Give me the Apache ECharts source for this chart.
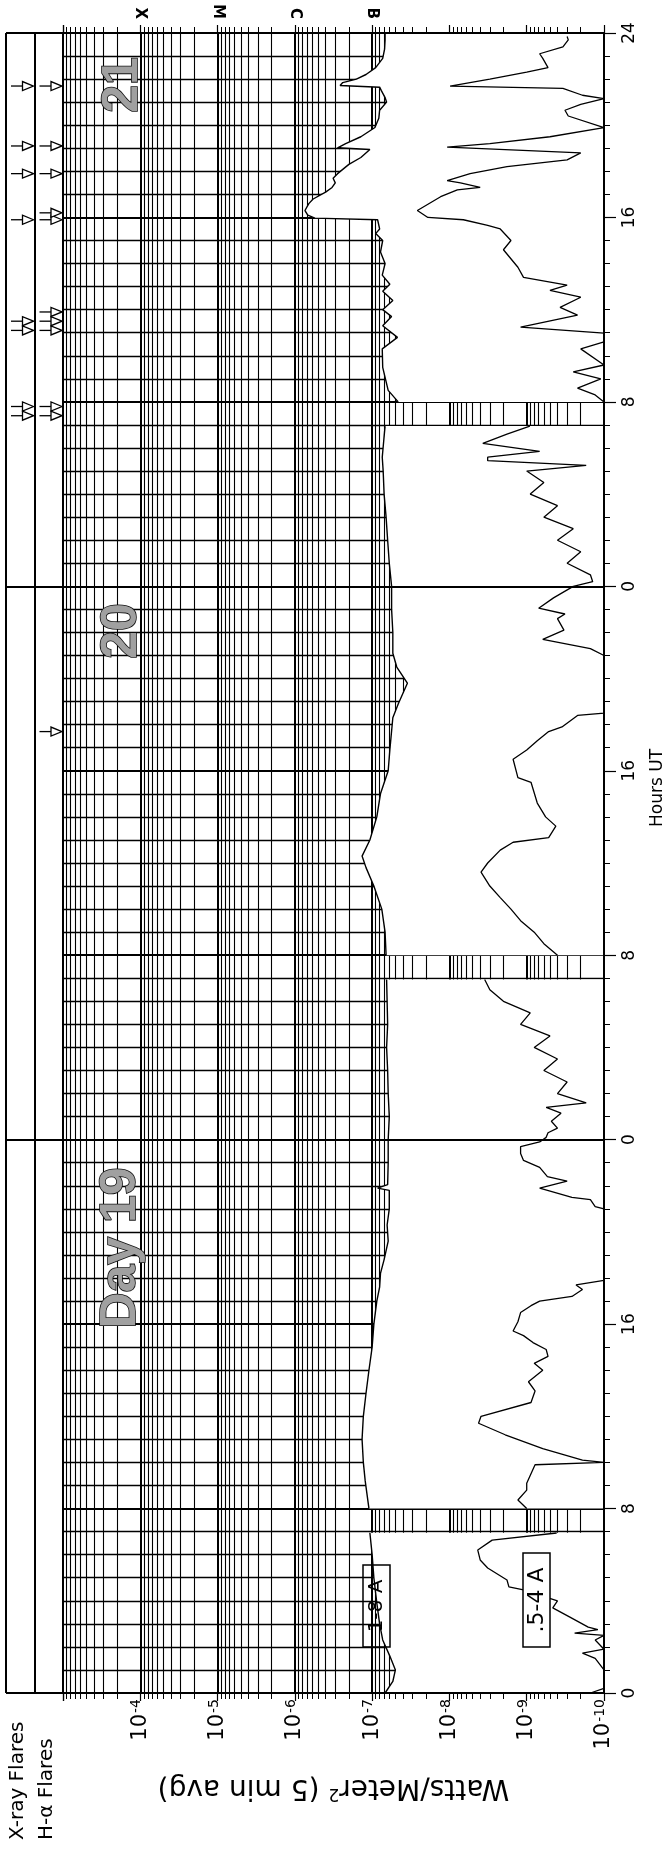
<!DOCTYPE html>
<html><head><meta charset="utf-8">
<script src="https://cdn.jsdelivr.net/npm/echarts@6/dist/echarts.min.js"></script>
<style>html,body{margin:0;padding:0;background:#fff}#c{width:671px;height:1850px}</style>
</head><body><div id="c"></div>
<script>
// ---- data: hours from 00 UT of day 19 (0..72), flux in W/m^2; null = data gap ----
const hours18 = [0.0,0.5,1.0,1.6,2.3,3.0,3.9,5.0,6.0,6.95,null,
 8.0,9.2,10.0,11.0,12.0,13.0,14.0,15.0,16.0,17.0,17.6,18.2,18.8,19.6,20.3,21.0,21.8,21.9,22.05,23.0,24.0,25.0,26.0,27.0,28.0,29.0,30.0,30.95,null,
 32.0,33.0,34.0,35.0,35.8,36.3,37.0,38.0,39.0,40.0,40.9,42.3,42.9,43.8,44.5,45.1,46.0,47.0,48.0,49.0,50.0,51.0,52.0,53.0,53.6,54.5,54.95,null,
 56.0,56.5,57.5,58.3,58.8,59.3,59.7,60.0,60.4,60.8,61.1,61.5,62.0,62.5,63.0,63.3,63.5,63.9,63.97,64.1,64.3,64.6,64.8,65.1,65.3,65.5,65.7,65.9,66.3,66.6,66.95,67.02,67.2,67.5,67.9,68.3,68.65,69.0,69.2,69.5,69.65,69.72,69.85,70.0,70.2,70.5,70.9,71.3,71.7,72.0];
const flux18 = [6.8e-8,5.4e-8,5.0e-8,5.9e-8,7.3e-8,8.0e-8,8.7e-8,9.5e-8,1.0e-7,1.07e-7,null,
 1.1e-7,1.23e-7,1.3e-7,1.35e-7,1.3e-7,1.2e-7,1.1e-7,1.0e-7,9.5e-8,8.7e-8,8.0e-8,7.8e-8,7.0e-8,6.2e-8,6.4e-8,6.0e-8,6.0e-8,8.5e-8,6.3e-8,6.2e-8,6.2e-8,6.0e-8,6.2e-8,6.3e-8,6.5e-8,6.3e-8,6.4e-8,6.5e-8,null,
 6.6e-8,6.8e-8,7.5e-8,9.5e-8,1.2e-7,1.35e-7,1.07e-7,8.7e-8,7.8e-8,6.2e-8,5.9e-8,5.4e-8,4.6e-8,3.5e-8,4.8e-8,5.4e-8,5.4e-8,5.6e-8,5.6e-8,6.0e-8,6.3e-8,6.6e-8,7.0e-8,7.2e-8,7.4e-8,7.0e-8,6.8e-8,null,
 4.6e-8,6.2e-8,7.3e-8,7.4e-8,4.7e-8,7.3e-8,5.6e-8,7.3e-8,5.4e-8,7.3e-8,5.9e-8,7.4e-8,6.8e-8,7.8e-8,7.3e-8,9.0e-8,8.0e-8,8.5e-8,5.5e-7,6.8e-7,7.4e-7,6.6e-7,5.8e-7,4.0e-7,3.3e-7,3.0e-7,3.2e-7,2.8e-7,2.0e-7,1.4e-7,1.07e-7,2.8e-7,2.2e-7,1.4e-7,9.2e-8,8.2e-8,8.0e-8,6.5e-8,6.8e-8,7.6e-8,8.0e-8,2.6e-7,2.4e-7,1.6e-7,1.2e-7,9.0e-8,7.3e-8,6.9e-8,6.8e-8,6.8e-8];

const hours054 = [0.0,0.2,1.0,1.5,1.73,1.9,2.3,2.5,2.6,2.75,2.86,3.3,3.69,4.0,4.47,4.6,4.9,5.42,5.77,6.2,6.63,6.94,null,
 8.0,8.37,8.8,9.1,9.9,10.0,10.1,10.6,11.2,11.7,12.0,12.6,13.1,13.5,14.0,14.3,14.6,14.9,15.2,15.5,15.7,16.1,16.5,16.8,17.0,17.2,17.5,17.7,17.9,21.0,21.1,21.4,21.5,21.9,22.2,22.4,22.8,23.1,23.4,23.7,23.9,24.1,24.3,24.5,24.8,25.15,25.4,25.6,26.0,26.5,27.0,27.5,28.0,28.5,29.0,29.5,30.0,30.5,30.95,null,
 32.0,32.5,33.0,33.5,34.0,34.5,35.0,35.6,36.0,36.56,36.9,37.1,37.6,38.0,38.6,39.5,39.7,40.5,40.9,41.3,41.7,41.9,42.4,42.5,45.0,45.3,45.7,46.1,46.6,46.8,47.05,47.5,48.0,48.2,48.5,49.0,49.5,50.0,50.5,51.0,51.5,52.0,52.5,53.0,53.25,53.45,53.6,53.85,54.2,54.6,54.95,null,
 56.0,56.3,56.6,57.0,57.3,57.6,58.3,58.6,58.98,59.24,59.76,60.1,60.54,60.84,61.06,61.4,61.84,62.6,63.0,63.5,63.66,63.9,64.0,64.3,64.9,65.2,65.3,65.5,65.6,65.9,66.2,66.5,66.8,67.05,67.2,67.5,67.9,68.4,68.65,68.9,69.15,69.3,69.6,69.7,70.0,70.3,70.5,70.9,71.1,71.4,71.7,71.85];
const flux054 = [1.5e-10,1.0e-10,1.0e-10,1.3e-10,1.9e-10,1.0e-10,1.3e-10,1.0e-10,2.4e-10,1.2e-10,1.6e-10,2.8e-10,4.6e-10,4.0e-10,1.1e-9,1.7e-9,1.8e-9,3.2e-9,4.0e-9,4.3e-9,2.8e-9,4.1e-10,null,
 1.0e-9,1.3e-9,1.0e-9,1.0e-9,7.8e-10,1.0e-10,1.9e-10,6.2e-10,1.9e-9,4.2e-9,3.9e-9,8.8e-10,7.8e-10,9.5e-10,6.2e-10,8.0e-10,5.3e-10,5.6e-10,8.3e-10,1.1e-9,1.5e-9,1.3e-9,1.2e-9,8.8e-10,6.8e-10,2.6e-10,1.9e-10,2.3e-10,1.0e-10,1.0e-10,1.3e-10,1.5e-10,2.6e-10,6.8e-10,3.0e-10,5.4e-10,6.8e-10,1.1e-9,1.2e-9,1.2e-9,6.8e-10,5.6e-10,5.3e-10,4.0e-10,4.8e-10,3.6e-10,5.6e-10,1.7e-10,4.0e-10,3.0e-10,6.0e-10,4.0e-10,8.0e-10,5.0e-10,1.2e-9,9.0e-10,2.0e-9,3.0e-9,3.5e-9,null,
 4.0e-10,6.0e-10,8.0e-10,1.2e-9,1.6e-9,2.2e-9,3.0e-9,3.9e-9,3.2e-9,2.2e-9,1.5e-9,5.2e-10,4.2e-10,5.7e-10,7.3e-10,8.8e-10,1.3e-9,1.5e-9,1.0e-9,7.3e-10,5.2e-10,3.5e-10,2.2e-10,1.0e-10,1.0e-10,1.5e-10,6.2e-10,3.3e-10,4.0e-10,3.2e-10,7.0e-10,4.5e-10,2.5e-10,1.4e-10,1.5e-10,3.0e-10,2.0e-10,4.0e-10,2.5e-10,6.0e-10,4.0e-10,9.0e-10,6.0e-10,1.0e-9,1.7e-10,3.2e-9,3.2e-9,6.8e-10,3.7e-9,1.8e-9,9.1e-10,null,
 1.0e-10,1.3e-10,2.2e-10,1.1e-10,2.5e-10,1.0e-10,2.0e-10,1.0e-10,1.0e-10,1.2e-9,2.2e-10,3.7e-10,2.0e-10,5.0e-10,3.0e-10,1.1e-9,1.3e-9,2.0e-9,1.6e-9,2.2e-9,3.2e-9,6.6e-9,1.9e-8,2.6e-8,1.3e-8,7.9e-9,4.0e-9,7.2e-9,1.07e-8,5.4e-9,1.8e-9,3.0e-10,2.0e-10,1.07e-8,3.0e-9,5.0e-10,1.0e-10,2.9e-10,3.2e-10,2.0e-10,1.0e-10,1.9e-10,3.4e-10,9.8e-9,3.0e-9,1.0e-9,5.3e-10,6.2e-10,6.8e-10,3.4e-10,2.9e-10,3.0e-10];

const xrayFlareHours = [55.4,55.8,59.1,59.5,63.9,65.9,67.1,69.7];
const haFlareHours = [41.7,55.4,55.8,59.1,59.5,59.9,63.9,64.2,65.9,67.1,69.7];

const fluxDecades = [1e-10,1e-9,1e-8,1e-7,1e-6,1e-5,1e-4];
const classValues = [1e-4,1e-5,1e-6,1e-7];
const classNames = ['X','M','C','B'];
const dayLabels = ['Day 19','20','21'];
const FLUX_MIN = 1e-10, FLUX_MAX = 1e-3, T_MAX = 72;

// ---- build series data ----
function toLine(h, f){ return h.map((t,i)=> t===null ? ['-','-'] : [f[i], t]); }
function toSegments(h, f){
  const segs=[]; let cur=[];
  h.forEach((t,i)=>{ if(t===null){ if(cur.length) segs.push(cur); cur=[]; } else cur.push([f[i],t]); });
  if(cur.length) segs.push(cur); return segs;
}
const fillSegs = toSegments(hours18, flux18);
const flareData = xrayFlareHours.map(t=>[0,t]).concat(haFlareHours.map(t=>[1,t]));

const SANS = 'DejaVu Sans';
const chart = echarts.init(document.getElementById('c'), null, {renderer:'canvas'});

function expLabel(v){
  const e = Math.round(Math.log10(v));
  const ok = fluxDecades.some(d => Math.round(Math.log10(d)) === e);
  return ok ? '{b|10}{e|' + e + '}' : '';
}
function classLabel(v){
  const e = Math.round(Math.log10(v));
  const i = classValues.findIndex(c => Math.round(Math.log10(c)) === e);
  return i >= 0 ? classNames[i] : '';
}

const logBase = {type:'log', logBase:10, min:FLUX_MIN, max:FLUX_MAX, interval:1, inverse:true, gridIndex:0};
const dayStyle = {font:'bold 50px "Liberation Sans"', fill:'#a0a0a0', stroke:'#111', lineWidth:1.6, align:'center', verticalAlign:'middle'};

const option = {
  animation:false,
  backgroundColor:'#fff',
  grid:[
    {left:63, right:67, top:33, bottom:157},
    {left:6, width:57, top:33, bottom:157}
  ],
  xAxis:[
    Object.assign({}, logBase, {position:'bottom', z:0,
      axisLine:{show:false}, axisTick:{show:false}, axisLabel:{show:false},
      splitLine:{show:true, lineStyle:{color:'#000', width:2}},
      minorTick:{show:false, splitNumber:9},
      minorSplitLine:{show:true, lineStyle:{color:'#000', width:1.1}}}),
    Object.assign({}, logBase, {position:'bottom', z:10,
      axisLine:{show:true, onZero:false, lineStyle:{color:'#000', width:2}},
      axisTick:{show:true, inside:false, length:8, lineStyle:{color:'#000', width:1.2}},
      minorTick:{show:true, splitNumber:9, length:6, lineStyle:{color:'#000', width:1}},
      splitLine:{show:false},
      axisLabel:{show:true, rotate:90, margin:6, formatter:expLabel,
        rich:{b:{fontFamily:SANS, fontSize:21, color:'#000'}, e:{fontFamily:SANS, fontSize:14, color:'#000', verticalAlign:'top', padding:[0,0,6,1]}}},
      name:'{a|Watts/Meter}{s|2}{a| (5 min avg)}', nameLocation:'middle', nameRotate:180, nameGap:80,
      nameTextStyle:{rich:{a:{fontFamily:SANS, fontSize:28, color:'#000'}, s:{fontFamily:SANS, fontSize:17, color:'#000', verticalAlign:'top', padding:[0,0,12,0]}}}}),
    Object.assign({}, logBase, {position:'top', z:10,
      axisLine:{show:true, onZero:false, lineStyle:{color:'#000', width:2}},
      axisTick:{show:true, inside:false, length:8, lineStyle:{color:'#000', width:1.2}},
      minorTick:{show:true, splitNumber:9, length:6, lineStyle:{color:'#000', width:1}},
      splitLine:{show:false},
      axisLabel:{show:true, rotate:90, margin:14, formatter:classLabel, fontFamily:SANS, fontSize:15, fontWeight:'bold', color:'#000'}}),
    {type:'value', gridIndex:1, min:0, max:2, interval:1, z:0,
      axisLine:{show:false}, axisTick:{show:false}, axisLabel:{show:false},
      splitLine:{show:true, lineStyle:{color:'#000', width:2}}}
  ],
  yAxis:[
    {type:'value', gridIndex:0, min:0, max:T_MAX, interval:8, z:0,
      axisLine:{show:false}, axisTick:{show:false}, axisLabel:{show:false},
      splitLine:{show:true, lineStyle:{color:'#000', width:2.2}},
      minorTick:{show:false, splitNumber:8},
      minorSplitLine:{show:true, lineStyle:{color:'#000', width:1.3}}},
    {type:'value', gridIndex:0, min:0, max:T_MAX, interval:24, z:4,
      axisLine:{show:false}, axisTick:{show:false}, axisLabel:{show:false},
      splitLine:{show:true, lineStyle:{color:'#000', width:2.2}}},
    {type:'value', gridIndex:0, min:0, max:T_MAX, interval:8, position:'right', z:10,
      axisLine:{show:true, onZero:false, lineStyle:{color:'#000', width:2}},
      axisTick:{show:true, inside:false, length:12, lineStyle:{color:'#000', width:1.2}},
      minorTick:{show:true, splitNumber:8, length:6, lineStyle:{color:'#000', width:1}},
      splitLine:{show:false},
      axisLabel:{show:true, rotate:90, margin:17, fontFamily:SANS, fontSize:17, color:'#000',
        formatter:v => v === T_MAX ? '24' : String(v % 24)}},
    {type:'value', gridIndex:1, min:0, max:T_MAX, interval:24, z:0,
      axisLine:{show:false}, axisTick:{show:false}, axisLabel:{show:false},
      splitLine:{show:true, lineStyle:{color:'#000', width:2.2}}}
  ],
  series:[
    {type:'custom', name:'fill', xAxisIndex:0, yAxisIndex:0, z:1, silent:true,
      data: fillSegs.map((s,i)=>[FLUX_MIN, 0, i]), encode:{x:0, y:1},
      renderItem:(params, api) => {
        const seg = fillSegs[api.value(2)];
        const pts = seg.map(p => api.coord(p));
        pts.push(api.coord([FLUX_MIN, seg[seg.length-1][1]]));
        pts.push(api.coord([FLUX_MIN, seg[0][1]]));
        return {type:'polygon', shape:{points:pts}, style:{fill:'#fff', stroke:null}};
      }},
    {type:'line', name:'1-8 A', xAxisIndex:0, yAxisIndex:0, z:5, showSymbol:false, connectNulls:false,
      data: toLine(hours18, flux18), lineStyle:{color:'#000', width:1.4}},
    {type:'line', name:'.5-4 A', xAxisIndex:0, yAxisIndex:0, z:5, showSymbol:false, connectNulls:false,
      data: toLine(hours054, flux054), lineStyle:{color:'#000', width:1.3}},
    {type:'custom', name:'flares', xAxisIndex:3, yAxisIndex:3, z:5, silent:true,
      data: flareData, encode:{x:0, y:1},
      renderItem:(params, api) => {
        const col = api.value(0), t = api.value(1);
        const l = api.coord([col, t]), r = api.coord([col + 1, t]);
        const tx = r[0] - 1, y = r[1];
        return {type:'group', children:[
          {type:'line', shape:{x1:l[0] + 5, y1:y, x2:tx - 11, y2:y}, style:{stroke:'#000', lineWidth:1.3}},
          {type:'polygon', shape:{points:[[tx,y],[tx-11,y-4.5],[tx-11,y+4.5]]}, style:{fill:'#fff', stroke:'#000', lineWidth:1.3}}
        ]};
      }}
  ],
  graphic:[
    {type:'text', x:121, y:1248, rotation:Math.PI/2, z:20, style:Object.assign({text:dayLabels[0]}, dayStyle)},
    {type:'text', x:122, y:631, rotation:Math.PI/2, z:20, style:Object.assign({text:dayLabels[1]}, dayStyle)},
    {type:'text', x:123, y:85, rotation:Math.PI/2, z:20, style:Object.assign({text:dayLabels[2]}, dayStyle)},
    {type:'rect', z:20, shape:{x:363, y:1565, width:27, height:82}, style:{fill:'none', stroke:'#000', lineWidth:1.5}},
    {type:'text', x:377, y:1606, rotation:Math.PI/2, z:20, style:{text:'1-8 A', font:'20px "DejaVu Sans"', fill:'#000', align:'center', verticalAlign:'middle'}},
    {type:'rect', z:20, shape:{x:523, y:1553, width:27, height:94}, style:{fill:'#fff', stroke:'#000', lineWidth:1.5}},
    {type:'text', x:537, y:1600, rotation:Math.PI/2, z:21, style:{text:'.5-4 A', font:'22px "DejaVu Sans"', fill:'#000', align:'center', verticalAlign:'middle'}},
    {type:'text', x:18, y:1840, rotation:Math.PI/2, z:20, style:{text:'X-ray Flares', font:'20px "DejaVu Sans"', fill:'#000', align:'left', verticalAlign:'middle'}},
    {type:'text', x:47, y:1840, rotation:Math.PI/2, z:20, style:{text:'H-\u03b1 Flares', font:'20px "DejaVu Sans"', fill:'#000', align:'left', verticalAlign:'middle'}},
    {type:'text', x:658, y:788, rotation:Math.PI/2, z:20, style:{text:'Hours UT', font:'17px "DejaVu Sans"', fill:'#000', align:'center', verticalAlign:'middle'}}
  ]
};
chart.setOption(option);
</script></body></html>
